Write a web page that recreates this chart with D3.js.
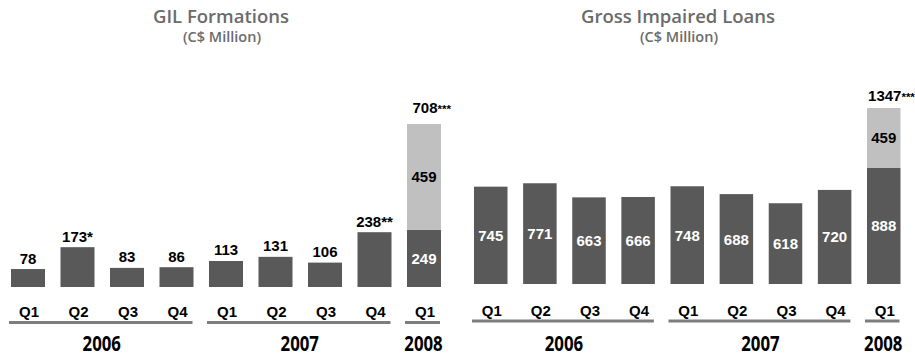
<!DOCTYPE html>
<html>
<head>
<meta charset="utf-8">
<script src="https://cdn.jsdelivr.net/npm/d3@7"></script>
<style>
  html, body { margin: 0; padding: 0; background: #ffffff; }
  svg { display: block; }
</style>
</head>
<body>
<svg id="chart" width="915" height="358"></svg>
<script>
// Quarter axis shared by both panels
const quarters = ["Q1", "Q2", "Q3", "Q4", "Q1", "Q2", "Q3", "Q4", "Q1"];
const years = ["2006", "2007", "2008"];
const yearOfQuarter = [0, 0, 0, 0, 1, 1, 1, 1, 2];

// GIL formations (C$ million)
const gilBase = [78, 173, 83, 86, 113, 131, 106, 238, 249];
const gilExtra = [0, 0, 0, 0, 0, 0, 0, 0, 459];
const gilNotes = ["", "*", "", "", "", "", "", "**", "***"];

// Gross impaired loans (C$ million)
const gilLoansBase = [745, 771, 663, 666, 748, 688, 618, 720, 888];
const gilLoansExtra = [0, 0, 0, 0, 0, 0, 0, 0, 459];
const gilLoansNotes = ["", "", "", "", "", "", "", "", "***"];

const DARK = "#595959";
const LIGHT = "#c0c0c0";
const RULE = "#7d7d7d";
const TITLE = "#6b6b6b";
const NUM_FONT = "'Liberation Sans', Arial, sans-serif";
const HUM_FONT = "'Open Sans', 'Noto Sans', sans-serif";

const svg = d3.select("#chart");

function drawPanel(cfg) {
  const g = svg.append("g");
  const n = cfg.base.length;
  const x = d3.scaleBand().domain(d3.range(n)).range(cfg.xRange)
    .paddingInner(cfg.pad).paddingOuter(0);
  const y = d3.scaleLinear().domain(cfg.yDomain).range(cfg.yRange);
  const bw = x.bandwidth();
  const cx = i => x(i) + bw / 2;

  // titles
  g.append("text").attr("x", cfg.titleX).attr("y", 23)
    .attr("text-anchor", "middle").attr("fill", TITLE)
    .style("font-family", HUM_FONT).style("font-weight", 600).style("font-size", "18.5px")
    .text(cfg.title);
  g.append("text").attr("x", cfg.titleX + 1).attr("y", 42)
    .attr("text-anchor", "middle").attr("fill", TITLE)
    .style("font-family", HUM_FONT).style("font-weight", 600).style("font-size", "14.5px")
    .text("(C$ Million)");

  const idx = d3.range(n);

  // base bars
  g.selectAll("rect.base").data(idx).join("rect")
    .attr("class", "base")
    .attr("x", i => x(i)).attr("width", bw)
    .attr("y", i => y(cfg.base[i]))
    .attr("height", i => y(0) - y(cfg.base[i]))
    .attr("fill", DARK);

  // stacked extra segments
  const ext = idx.filter(i => cfg.extra[i] > 0);
  g.selectAll("rect.extra").data(ext).join("rect")
    .attr("class", "extra")
    .attr("x", i => x(i)).attr("width", bw)
    .attr("y", i => y(cfg.base[i] + cfg.extra[i]))
    .attr("height", i => y(cfg.base[i]) - y(cfg.base[i] + cfg.extra[i]))
    .attr("fill", LIGHT);

  const label = (sel) => sel.attr("text-anchor", "middle")
    .style("font-family", NUM_FONT).style("font-weight", "bold").style("font-size", "15px");

  // base value labels
  idx.forEach(i => {
    const stacked = cfg.extra[i] > 0;
    const inside = cfg.inside || stacked;
    if (inside) {
      const mid = (y(cfg.base[i]) + y(0)) / 2;
      g.append("text").call(label)
        .attr("x", cx(i)).attr("y", mid + 5.5).attr("fill", "#ffffff")
        .text(cfg.base[i] + (stacked ? "" : cfg.notes[i]));
    } else {
      g.append("text").call(label)
        .attr("x", cx(i)).attr("y", y(cfg.base[i]) - 5.5).attr("fill", "#000000")
        .text(cfg.base[i] + cfg.notes[i]);
    }
  });

  // stacked segment labels and totals (number centred, smaller footnote marks trailing)
  ext.forEach(i => {
    const top = y(cfg.base[i] + cfg.extra[i]);
    const mid = (top + y(cfg.base[i])) / 2;
    g.append("text").call(label)
      .attr("x", cx(i)).attr("y", mid + 5.5).attr("fill", "#000000")
      .text(cfg.extra[i]);
    const total = g.append("text").call(label)
      .attr("x", cx(i) + 1).attr("y", top - cfg.totalGap).attr("fill", "#000000")
      .text(cfg.base[i] + cfg.extra[i]);
    const w = total.node().getComputedTextLength();
    g.append("text")
      .style("font-family", NUM_FONT).style("font-weight", "bold").style("font-size", "11.5px")
      .attr("x", cx(i) + 1 + w / 2).attr("y", top - cfg.totalGap).attr("fill", "#000000")
      .text(cfg.notes[i]);
  });

  // quarter labels
  g.selectAll("text.q").data(idx).join("text")
    .attr("class", "q").call(label)
    .attr("x", i => cx(i) + 1).attr("y", cfg.qY).attr("fill", "#000000")
    .text(i => quarters[i]);

  // year rules and labels
  years.forEach((yr, k) => {
    const members = idx.filter(i => yearOfQuarter[i] === k);
    const x0 = x(members[0]) - 2;
    const x1 = x(members[members.length - 1]) + bw - 1;
    g.append("line")
      .attr("x1", x0).attr("x2", x1)
      .attr("y1", cfg.qY + 5.5).attr("y2", cfg.qY + 5.5)
      .attr("stroke", RULE).attr("stroke-width", 2.8);
    g.append("text")
      .attr("transform", `translate(${(x0 + x1) / 2 + 1},350.5) scale(0.8,1)`)
      .attr("text-anchor", "middle").attr("fill", "#000000")
      .style("font-family", HUM_FONT).style("font-weight", 700).style("font-size", "21px")
      .text(yr);
  });
}

drawPanel({
  title: "GIL Formations", titleX: 221,
  base: gilBase, extra: gilExtra, notes: gilNotes,
  xRange: [11, 441], pad: 0.313,
  yDomain: [0, 708], yRange: [287, 124],
  inside: false, totalGap: 11, qY: 317
});

drawPanel({
  title: "Gross Impaired Loans", titleX: 678,
  base: gilLoansBase, extra: gilLoansExtra, notes: gilLoansNotes,
  xRange: [474, 900.5], pad: 0.318,
  yDomain: [0, 1347], yRange: [284, 108],
  inside: true, totalGap: 7, qY: 315.5
});
</script>
</body>
</html>
